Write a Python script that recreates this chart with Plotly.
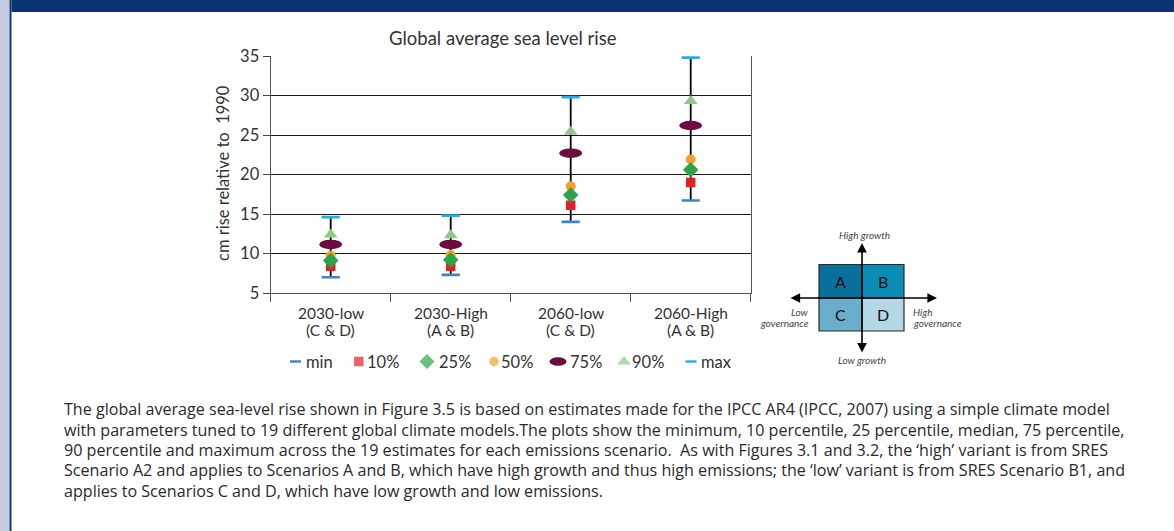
import plotly.graph_objects as go

W, H = 1174, 531

# ---------------- data ----------------
categories = ["2030-low", "2030-High", "2060-low", "2060-High"]
cat_sub = ["(C & D)", "(A & B)", "(C & D)", "(A & B)"]
v_min = [7.0, 7.3, 14.0, 16.7]
v_p10 = [8.4, 8.4, 16.1, 19.0]
v_p25 = [9.1, 9.2, 17.4, 20.6]
v_p50 = [9.7, 9.8, 18.5, 21.9]
v_p75 = [11.15, 11.15, 22.7, 26.2]
v_p90 = [12.4, 12.3, 25.4, 29.3]
v_max = [14.6, 14.8, 29.8, 34.8]
y_ticks = [5, 10, 15, 20, 25, 30, 35]

FONT = "Lato"
TXT = "#333333"

def px(x):
    return x / W

def py(y):
    return 1 - y / H

fig = go.Figure()

# range lines min -> max
lx, ly = [], []
for c, a, b in zip(categories, v_min, v_max):
    lx += [c, c, None]
    ly += [a, b, None]
fig.add_trace(go.Scatter(x=lx, y=ly, mode="lines", line=dict(color="black", width=1.8),
                         showlegend=False, hoverinfo="skip"))

series = [
    ("min", v_min, dict(symbol="line-ew", size=13, line=dict(color="#3d85c6", width=2.6))),
    ("max", v_max, dict(symbol="line-ew", size=13, line=dict(color="#1cb3e3", width=2.6))),
    ("10%", v_p10, dict(symbol="square", size=9.5, color="#e61f26", line=dict(width=0))),
    ("50%", v_p50, dict(symbol="circle", size=10, color="#f7a02b", line=dict(width=0))),
    ("25%", v_p25, dict(symbol="diamond", size=12, color="#2ca54a", line=dict(width=0))),
    ("90%", v_p90, dict(symbol="triangle-up", size=12, color="#8dcb84", line=dict(width=0))),
]
for name, vals, mk in series:
    fig.add_trace(go.Scatter(x=categories, y=vals, mode="markers", marker=mk, name=name,
                             showlegend=False))

shapes = []
# 75% ellipses in data coordinates
for i, v in enumerate(v_p75):
    shapes.append(dict(type="circle", xref="x", yref="y", x0=i - 0.095, x1=i + 0.095,
                       y0=v - 0.6, y1=v + 0.6, fillcolor="#6b0b3f", line=dict(width=0),
                       layer="above"))

# page decoration: left strip and header band
shapes.append(dict(type="rect", xref="paper", yref="paper", x0=0, x1=px(9.5), y0=0, y1=1,
                   fillcolor="#c6c9e0", line=dict(width=0), layer="below"))
shapes.append(dict(type="rect", xref="paper", yref="paper", x0=px(9.5), x1=px(11.5), y0=0, y1=1,
                   fillcolor="#0a3a78", line=dict(width=0), layer="below"))
shapes.append(dict(type="rect", xref="paper", yref="paper", x0=px(11.5), x1=1, y0=py(12), y1=1,
                   fillcolor="#0a3572", line=dict(width=0), layer="below"))

# ---- legend (manual) ----
leg_y = 361.5
legend_items = [
    ("min", 295.5, 303.5, ("line", "#3d85c6")),
    ("10%", 358.8, 365, ("square", "#e61f26")),
    ("25%", 427, 437, ("diamond", "#2ca54a")),
    ("50%", 494, 499, ("circle", "#f7a02b")),
    ("75%", 558, 568, ("ellipse", "#6b0b3f")),
    ("90%", 624, 630, ("triangle-up", "#8dcb84")),
    ("max", 691, 699, ("line", "#1cb3e3")),
]
annotations = []
lgx, lgy, lgsym, lgcol, lgsize = [], [], [], [], []
for label, sx, tx, (sym, col) in legend_items:
    if sym == "ellipse":
        shapes.append(dict(type="circle", xref="paper", yref="paper", x0=px(sx - 8.5), x1=px(sx + 8.5),
                           y0=py(leg_y + 4.3), y1=py(leg_y - 4.3), fillcolor=col, line=dict(width=0)))
    elif sym == "line":
        shapes.append(dict(type="line", xref="paper", yref="paper", x0=px(sx - 5.5), x1=px(sx + 5.5),
                           y0=py(leg_y), y1=py(leg_y), line=dict(color=col, width=2.4)))
    else:
        size = {"square": 9.5, "diamond": 11.5, "circle": 9.5, "triangle-up": 11.5}[sym]
        lgx.append(sx); lgy.append(leg_y); lgsym.append(sym); lgcol.append(col); lgsize.append(size)
    annotations.append(dict(text=label, xref="paper", yref="paper", x=px(tx), y=py(leg_y),
                            xanchor="left", yanchor="middle", showarrow=False,
                            font=dict(family=FONT, size=16.5, color=TXT)))
fig.add_trace(go.Scatter(x=lgx, y=lgy, mode="markers", xaxis="x2", yaxis="y2",
                         marker=dict(symbol=lgsym, color=lgcol, size=lgsize, line=dict(width=0)),
                         showlegend=False, hoverinfo="skip", cliponaxis=False))

# ---- x category labels (two lines) ----
for c, s in zip(categories, cat_sub):
    annotations.append(dict(text=c, xref="x", yref="paper", x=c, y=py(312.5), yanchor="middle",
                            showarrow=False, font=dict(family=FONT, size=15.5, color=TXT)))
    annotations.append(dict(text=s, xref="x", yref="paper", x=c, y=py(330), yanchor="middle",
                            showarrow=False, font=dict(family=FONT, size=15.5, color=TXT)))

# title + y axis title
annotations.append(dict(text="Global average sea level rise", xref="paper", yref="paper",
                        x=px(503), y=py(38), showarrow=False, yanchor="middle",
                        font=dict(family=FONT, size=18.5, color=TXT)))
annotations.append(dict(text="cm rise relative to  1990", xref="paper", yref="paper",
                        x=px(223), y=py(173), showarrow=False, textangle=-90,
                        xanchor="center", yanchor="middle",
                        font=dict(family=FONT, size=16.5, color=TXT)))

# ---- scenario diagram ----
bx0, bx1, by0, by1, mx, my = 819, 904, 264.5, 331, 862, 298
quads = [("A", bx0, mx, by0, my, "#08709a"), ("B", mx, bx1, by0, my, "#0b8db6"),
         ("C", bx0, mx, my, by1, "#6aaecb"), ("D", mx, bx1, my, by1, "#b5d6e6")]
for lab, x0, x1, y0, y1, col in quads:
    shapes.append(dict(type="rect", xref="paper", yref="paper", x0=px(x0), x1=px(x1),
                       y0=py(y1), y1=py(y0), fillcolor=col, line=dict(color="#2a2a2a", width=1.2)))
    annotations.append(dict(text=lab, xref="paper", yref="paper", x=px((x0 + x1) / 2),
                            y=py((y0 + y1) / 2), showarrow=False, xanchor="center", yanchor="middle",
                            font=dict(family=FONT, size=16, color="#111111")))
annotations.append(dict(text="", xref="paper", yref="paper", x=px(937), y=py(my),
                        ax=789 - 937, ay=0, showarrow=True, arrowhead=2, arrowside="end+start",
                        arrowsize=1.2, arrowwidth=1.6, arrowcolor="black"))
annotations.append(dict(text="", xref="paper", yref="paper", x=px(mx), y=py(243),
                        ax=0, ay=354 - 243, showarrow=True, arrowhead=2, arrowside="end+start",
                        arrowsize=1.2, arrowwidth=1.6, arrowcolor="black"))
small = dict(family=FONT, size=10, color="#444444")
for t, x, y, xa in [("<i>High growth</i>", 864, 235, "center"),
                    ("<i>Low growth</i>", 862, 360, "center"),
                    ("<i>Low</i>", 811, 312, "right"),
                    ("<i>governance</i>", 811, 323, "right"),
                    ("<i>High</i>", 911, 312, "left"),
                    ("<i>governance</i>", 911, 323, "left")]:
    annotations.append(dict(text=t, xref="paper", yref="paper", x=px(x), y=py(y), showarrow=False,
                            xanchor=xa, yanchor="middle", font=small))

# ---- paragraph ----
para = [
    "The global average sea-level rise shown in Figure 3.5 is based on estimates made for the IPCC AR4 (IPCC, 2007) using a simple climate model",
    "with parameters tuned to 19 different global climate models.The plots show the minimum, 10 percentile, 25 percentile, median, 75 percentile,",
    "90 percentile and maximum across the 19 estimates for each emissions scenario.  As with Figures 3.1 and 3.2, the \u2018high\u2019 variant is from SRES",
    "Scenario A2 and applies to Scenarios A and B, which have high growth and thus high emissions; the \u2018low\u2019 variant is from SRES Scenario B1, and",
    "applies to Scenarios C and D, which have low growth and low emissions.",
]
para_y = [409, 429.5, 449.5, 470, 490.5]
for t, y in zip(para, para_y):
    annotations.append(dict(text=t, xref="paper", yref="paper", x=px(61.5), y=py(y), showarrow=False,
                            xanchor="left", yanchor="middle",
                            font=dict(family="Open Sans", size=16.1, color="#2a2a2a")))

fig.update_layout(
    width=W, height=H, margin=dict(l=0, r=0, t=0, b=0, pad=0, autoexpand=False),
    paper_bgcolor="white", plot_bgcolor="rgba(0,0,0,0)",
    showlegend=False, shapes=shapes, annotations=annotations,
    font=dict(family=FONT, color=TXT),
    xaxis=dict(type="category", categoryorder="array", categoryarray=categories,
               domain=[px(270.7), px(750.7)], range=[-0.5, 3.5],
               showticklabels=False, ticks="outside", ticklen=8, tickwidth=1.3,
               tickcolor="#555555", tickson="boundaries", showgrid=False,
               showline=True, linecolor="#555555", linewidth=1.3, zeroline=False, automargin=False),
    yaxis=dict(domain=[py(293), py(56)], range=[5, 35], tickvals=y_ticks,
               ticks="outside", ticklen=7, tickwidth=1.2, tickcolor="#444444",
               tickfont=dict(family=FONT, size=16.5, color=TXT),
               showgrid=True, gridcolor="#1a1a1a", gridwidth=1.1,
               showline=True, linecolor="#555555", linewidth=1.3, mirror=True, zeroline=False,
               automargin=False),
    xaxis2=dict(domain=[0, 1], range=[0, W], visible=False, anchor="y2", fixedrange=True),
    yaxis2=dict(domain=[0, 1], range=[H, 0], visible=False, anchor="x2", fixedrange=True),
)

post = ("document.body.style.margin='0';document.body.style.overflow='hidden';"
        "var gd=document.getElementById('{plot_id}');gd.style.position='fixed';"
        "gd.style.left='0px';gd.style.top='0px';")
fig.write_html("out.html", post_script=post, config={"displayModeBar": False})
